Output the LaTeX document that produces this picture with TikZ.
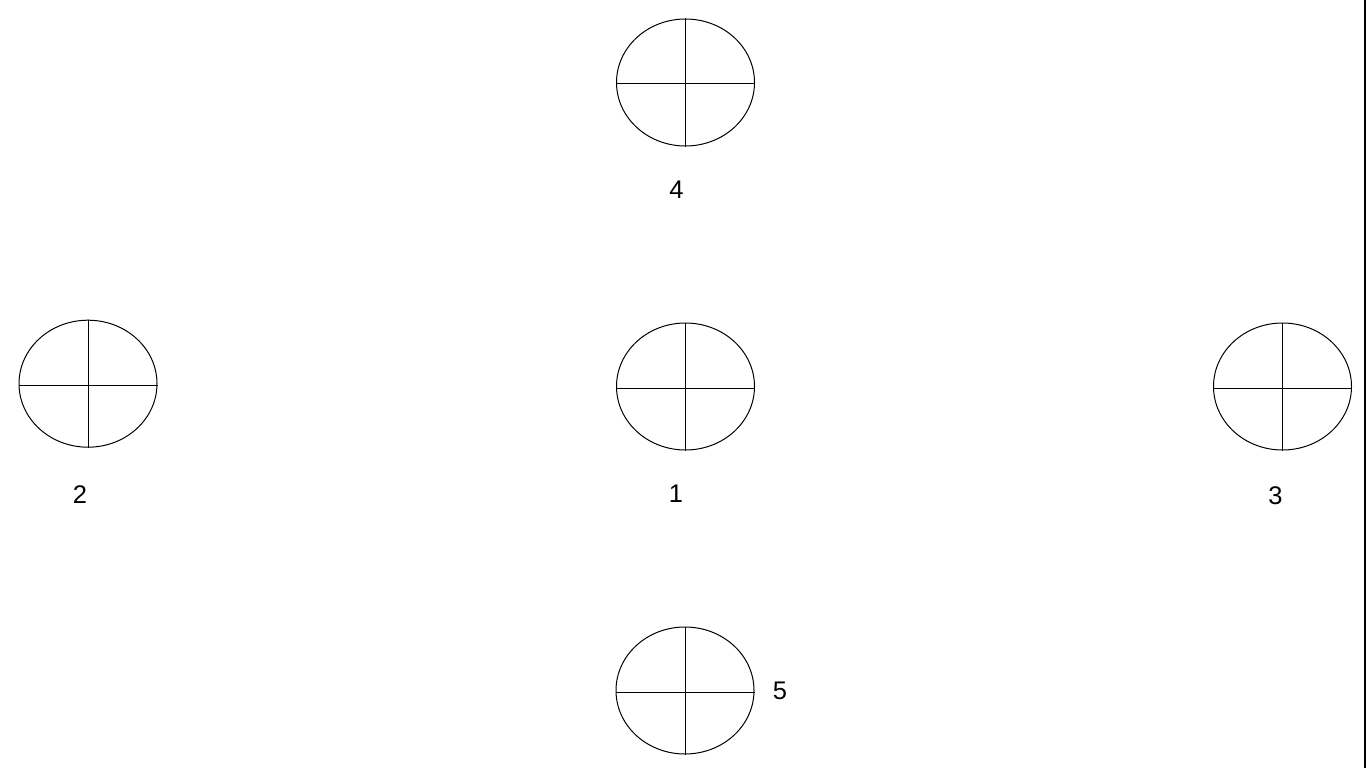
\documentclass[tikz,border=0pt]{standalone}
\usepackage{fontspec}
\setmainfont{Liberation Sans}
\usetikzlibrary{shapes.geometric}
\begin{document}
\begin{tikzpicture}[x=1pt,y=-1pt,
  disc/.style={draw=black, ellipse, line width=1pt, minimum width=138pt, minimum height=127pt, inner sep=0pt},
  cross/.style={draw=black, line width=1pt},
  lbl/.style={inner sep=0pt, font=\fontsize{25.5}{25.5}\selectfont}]
\useasboundingbox (0,0) rectangle (1366,768);
\node[disc] (d4) at (685.5,82.5) {};
\node[disc] (d2) at (88,383.7) {};
\node[disc] (d1) at (685.5,386.5) {};
\node[disc] (d3) at (1282.5,386.5) {};
\node[disc] (d5) at (685,690.5) {};
\foreach \n in {d1,d2,d3,d4,d5}{
  \draw[cross] (\n.north) -- (\n.south);
  \draw[cross] ([yshift=-1.5pt]\n.west) -- ([yshift=-1.5pt]\n.east);
}
\node[lbl] (l4) at (676.5,189.5) {4};
\node[lbl] (l2) at (80,495) {2};
\node[lbl] (l1) at (676,493.5) {1};
\node[lbl] (l3) at (1275.5,496) {3};
\node[lbl] (l5) at (780,691) {5};
\coordinate (bt) at (1365.2,0);
\coordinate (bb) at (1365.2,768);
\draw[line width=1.6pt] (bt) -- (bb);
\end{tikzpicture}
\end{document}
